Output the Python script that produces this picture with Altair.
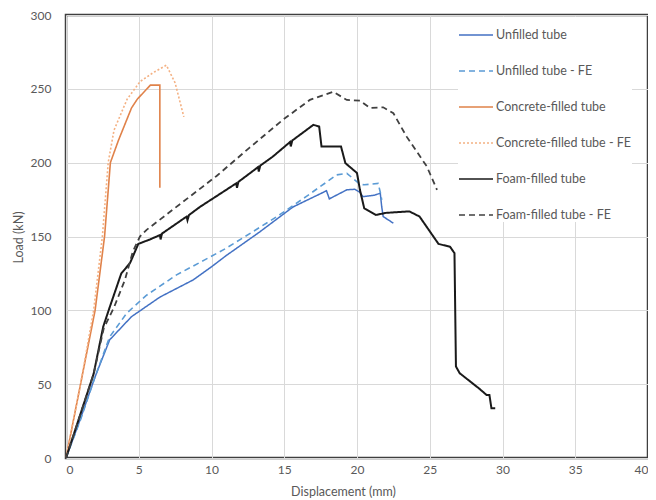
import altair as alt
import pandas as pd

# ---- data ----
unfilled_x = [0, 0.96, 2.0, 3.0, 4.5, 6.46, 8.74, 10.0, 11.0, 13.3, 15.6, 17.7, 17.9, 18.1, 19.3, 19.85, 20.2, 20.4, 21.2, 21.6, 21.7, 21.8, 22.5]
unfilled_y = [0, 25.7, 55, 80, 95.7, 109, 120.6, 129.5, 137, 153, 170, 180, 181, 175.5, 181.6, 182, 180, 177, 178, 179.3, 170, 163.5, 159]

unfilled_fe_x = [0, 1.0, 2.0, 3.0, 4.17, 5.5, 7.6, 9.5, 11.0, 12.8, 14.5, 16.5, 18.6, 19.3, 20.2, 20.5, 21.45, 21.6, 21.7]
unfilled_fe_y = [0, 26, 55, 82, 98, 110, 124, 134, 142, 153, 163.5, 177, 191.7, 192.8, 185.4, 185, 186, 180, 174.8]

concrete_x = [0, 1.0, 2.0, 2.65, 3.05, 3.6, 4.5, 4.9, 5.8, 6.45, 6.45]
concrete_y = [0, 50, 100, 150, 200, 215, 237, 243, 252.5, 252.5, 183]

concrete_fe_x = [0, 1.0, 1.9, 2.5, 2.9, 3.3, 4.2, 5.1, 6.0, 6.9, 7.5, 8.1]
concrete_fe_y = [0, 50, 100, 150, 200, 222, 243, 255, 261, 266, 254, 231]

foam_x = [0, 1.0, 1.9, 2.56, 3.0, 3.8, 4.4, 4.97, 5.77, 6.46, 6.5, 6.6, 8.29, 8.35, 8.45, 9.2, 11.7, 11.75, 11.85, 13.2, 13.25, 13.35, 14.2, 15.4, 15.45, 15.55, 17.0, 17.4, 17.56, 18.9, 19.2, 20.0, 20.2, 20.5, 21.3, 22.0, 23.6, 24.3, 25.6, 26.4, 26.7, 26.8, 27.06, 28.4, 28.9, 29.1, 29.24, 29.5]
foam_y = [0, 30, 57, 89, 102, 125, 132, 145, 148, 151, 148, 152, 163.5, 161, 164.5, 170, 186, 183, 187, 197, 194, 198, 204, 214, 211, 215, 225.6, 224.5, 211, 211, 199.7, 193, 181.6, 169, 164.6, 166, 167, 163.5, 145, 143, 138.7, 62, 57.4, 47, 42.7, 42.7, 33.7, 33.7]

foam_fe_x = [0, 1.0, 1.9, 2.6, 3.3, 4.05, 4.6, 5.08, 5.54, 10.35, 12.6, 14.9, 16.76, 18.36, 19.3, 20.2, 20.9, 21.8, 22.5, 23.4, 24.8, 25.5]
foam_fe_y = [0, 30, 57, 88, 102, 120.6, 140, 150, 154.5, 191, 210, 229, 242.5, 248, 242.5, 242, 237, 237.5, 233.5, 217.8, 197.4, 181.6]

series_names = ["Unfilled tube", "Unfilled tube - FE", "Concrete-filled tube",
                "Concrete-filled tube - FE", "Foam-filled tube", "Foam-filled tube - FE"]
series_colors = ["#4472C4", "#5B9BD5", "#E0824A", "#F4B183", "#1a1a1a", "#404040"]
series_dash = [[1, 0], [6, 4], [1, 0], [2, 2], [1, 0], [6, 4]]
series_width = [1.5, 1.6, 1.6, 1.6, 2.0, 1.8]

all_x = [unfilled_x, unfilled_fe_x, concrete_x, concrete_fe_x, foam_x, foam_fe_x]
all_y = [unfilled_y, unfilled_fe_y, concrete_y, concrete_fe_y, foam_y, foam_fe_y]

rows = []
for name, xs, ys, w in zip(series_names, all_x, all_y, series_width):
    for i, (xv, yv) in enumerate(zip(xs, ys)):
        rows.append({"series": name, "idx": i, "x": xv, "y": yv, "w": w})
df = pd.DataFrame(rows)

FONT = "Lato"
GRAY = "#595959"

legend = alt.Legend(
    title=None, orient="none", legendX=392, legendY=2,
    symbolType="stroke", symbolSize=1156, symbolStrokeWidth=1.6,
    labelFont=FONT, labelFontSize=12.5, labelColor=GRAY, labelOffset=2,
    rowPadding=11, padding=0, fillColor="white", labelLimit=250,
)

chart = alt.Chart(df).mark_line().encode(
    x=alt.X("x:Q", scale=alt.Scale(domain=[0, 40], nice=False),
            axis=alt.Axis(values=list(range(0, 41, 5)), title="Displacement (mm)",
                          titleX=277, titleY=27, titleAlign="center", labelPadding=6)),
    y=alt.Y("y:Q", scale=alt.Scale(domain=[0, 300], nice=False),
            axis=alt.Axis(values=list(range(0, 301, 50)), title="Load (kN)",
                          titleX=-48, titleY=222, titleAlign="center", titleBaseline="middle",
                          labelPadding=15)),
    color=alt.Color("series:N", sort=series_names,
                    scale=alt.Scale(domain=series_names, range=series_colors), legend=legend),
    strokeDash=alt.StrokeDash("series:N", sort=series_names,
                              scale=alt.Scale(domain=series_names, range=series_dash), legend=legend),
    strokeWidth=alt.StrokeWidth("w:Q", scale=None, legend=None),
    order="idx:Q",
    detail="series:N",
).properties(
    width=582, height=443,
    autosize=alt.AutoSizeParams(type="none"),
    padding={"left": 58, "top": 7, "right": 0, "bottom": 40},
).configure_view(
    stroke="#3f3f3f", strokeWidth=2.5
).configure_axis(
    grid=True, gridColor="#d9d9d9", gridWidth=1, domain=False, ticks=False,
    labelFont=FONT, labelFontSize=12, labelColor=GRAY,
    titleFont=FONT, titleFontSize=12.5, titleColor=GRAY, titleFontWeight="normal",
)

chart.save("out.html", embed_options={"renderer": "svg", "actions": False})
